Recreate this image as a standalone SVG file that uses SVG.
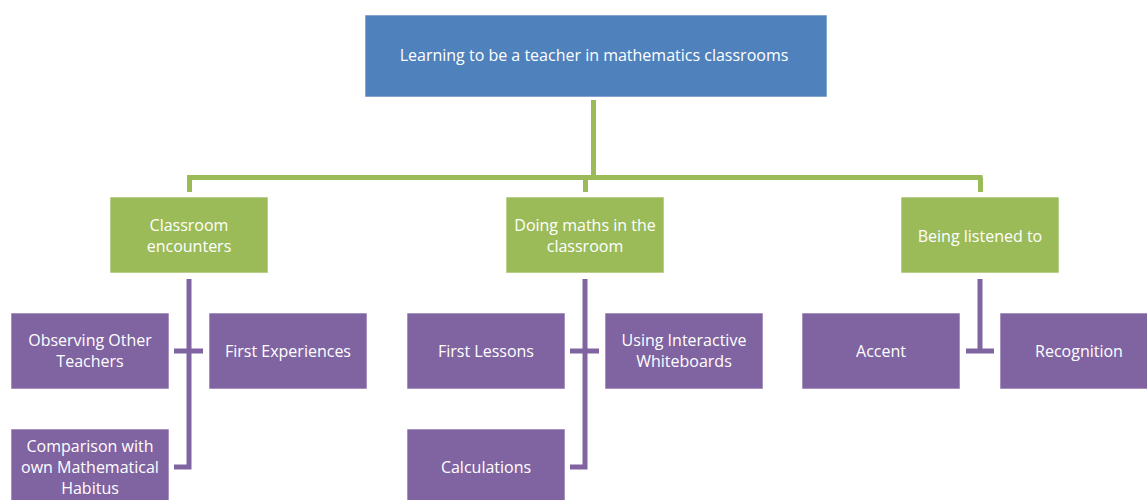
<svg xmlns="http://www.w3.org/2000/svg" width="1147" height="500" viewBox="0 0 1147 500">
<style>
.box{stroke:#ffffff;stroke-width:1;stroke-opacity:0.6}
.blue{fill:#4f81bd}
.green{fill:#9bbb59}
.purple{fill:#8064a2}
text{font-family:"Open Sans","Liberation Sans",sans-serif;font-size:16px;fill:#ffffff;text-anchor:middle}
.gl{stroke:#9bbb59;stroke-width:5;fill:none}
.pl{stroke:#8064a2;stroke-width:5;fill:none}
</style>
<rect width="1147" height="500" fill="#ffffff"/>
<g id="connectors">
<path class="gl" d="M593.5,100 V177.5 M187,177.5 H982.5 M189.5,177.5 V192 M585.5,177.5 V192 M980.5,177.5 V192"/>
<path class="pl" d="M189,279 V467 H174 M174,351 H203"/>
<path class="pl" d="M585,279 V467 H570 M570,351 H599"/>
<path class="pl" d="M980,279 V351 M966,351 H994"/>
</g>
<g id="root"><rect class="box blue" x="365" y="15" width="462" height="82"/><text x="594" y="61">Learning to be a teacher in mathematics classrooms</text></g>
<g id="classroom-encounters"><rect class="box green" x="110" y="197" width="158" height="76"/><text x="189" y="231">Classroom</text><text x="189" y="252">encounters</text></g>
<g id="doing-maths"><rect class="box green" x="506" y="197" width="158" height="76"/><text x="585" y="231">Doing maths in the</text><text x="585" y="252">classroom</text></g>
<g id="being-listened"><rect class="box green" x="901" y="197" width="158" height="76"/><text x="980" y="242">Being listened to</text></g>
<g id="observing"><rect class="box purple" x="11" y="313" width="158" height="76"/><text x="90" y="346">Observing Other</text><text x="90" y="367">Teachers</text></g>
<g id="first-experiences"><rect class="box purple" x="209" y="313" width="158" height="76"/><text x="288" y="357">First Experiences</text></g>
<g id="comparison"><rect class="box purple" x="11" y="429" width="158" height="76"/><text x="90" y="452">Comparison with</text><text x="90" y="473">own Mathematical</text><text x="90" y="494">Habitus</text></g>
<g id="first-lessons"><rect class="box purple" x="407" y="313" width="158" height="76"/><text x="486" y="357">First Lessons</text></g>
<g id="whiteboards"><rect class="box purple" x="605" y="313" width="158" height="76"/><text x="684" y="346">Using Interactive</text><text x="684" y="367">Whiteboards</text></g>
<g id="calculations"><rect class="box purple" x="407" y="429" width="158" height="76"/><text x="486" y="473">Calculations</text></g>
<g id="accent"><rect class="box purple" x="802" y="313" width="158" height="76"/><text x="881" y="357">Accent</text></g>
<g id="recognition"><rect class="box purple" x="1000" y="313" width="158" height="76"/><text x="1079" y="357">Recognition</text></g>
</svg>
